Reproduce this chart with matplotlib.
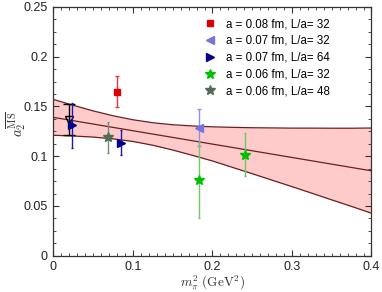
import matplotlib
matplotlib.use("Agg")
import matplotlib.pyplot as plt
from matplotlib.ticker import MultipleLocator
from matplotlib.lines import Line2D

plt.rcParams['font.family'] = ['Liberation Sans', 'DejaVu Sans']
plt.rcParams['mathtext.fontset'] = 'cm'

# Fit band
band_x = [0.0, 0.025, 0.05, 0.075, 0.1, 0.125, 0.15, 0.175, 0.2, 0.225, 0.25,
          0.275, 0.3, 0.325, 0.35, 0.375, 0.4]
band_upper = [0.157, 0.1511, 0.1455, 0.1406, 0.1366, 0.1336, 0.1316, 0.1304, 0.1295,
              0.129, 0.1286, 0.1284, 0.1282, 0.1282, 0.1281, 0.1281, 0.1283]
band_lower = [0.121, 0.1203, 0.1192, 0.1174, 0.1148, 0.111, 0.1062, 0.1008, 0.0952,
              0.0888, 0.0824, 0.0759, 0.0694, 0.0628, 0.0561, 0.0495, 0.0427]
central_x = [0.0, 0.4]
central_y = [0.139, 0.0853]

# Extrapolated point (open triangle)
extrap_x = [0.020]
extrap_y = [0.1365]
extrap_err = [0.0155]

# Lattice data
labels = ['a = 0.08 fm, L/a= 32', 'a = 0.07 fm, L/a= 32', 'a = 0.07 fm, L/a= 64',
          'a = 0.06 fm, L/a= 32', 'a = 0.06 fm, L/a= 48']
s1_x = [0.0795]; s1_y = [0.165]; s1_e = [0.016]
s2_x = [0.183]; s2_y = [0.1285]; s2_e = [0.0185]
s3_x = [0.0229, 0.0845]; s3_y = [0.131, 0.1135]; s3_e = [0.0225, 0.0125]
s4_x = [0.1826, 0.2409]; s4_y = [0.0763, 0.1014]; s4_e = [0.038, 0.0215]
s5_x = [0.068]; s5_y = [0.119]; s5_e = [0.0157]

fig = plt.figure(figsize=(3.82, 2.92), dpi=100)
ax = fig.add_axes([0.140, 0.1243, 0.8325, 0.852])

band_edge = '#6a1f1f'
ax.fill_between(band_x, band_lower, band_upper, color='#ffcaca', lw=0, zorder=1)
ax.plot(band_x, band_upper, color=band_edge, lw=0.9, zorder=2)
ax.plot(band_x, band_lower, color=band_edge, lw=0.9, zorder=2)
ax.plot(central_x, central_y, color=band_edge, lw=0.9, zorder=2)

ax.errorbar(extrap_x, extrap_y, yerr=extrap_err, fmt='v', mfc='none', mec='black',
            ms=5.5, ecolor='black', elinewidth=1, capsize=4, capthick=1, zorder=3)

series = [
    (s1_x, s1_y, s1_e, 's', '#dd0000', '#ee3333', 5, 1.5),
    (s2_x, s2_y, s2_e, '<', '#7474dd', '#8f8fe6', 6, 1.5),
    (s3_x, s3_y, s3_e, '>', '#00008b', '#1a1ab0', 6, 1.0),
    (s4_x, s4_y, s4_e, '*', '#00c000', '#66cc66', 7.5, 1.0),
    (s5_x, s5_y, s5_e, '*', '#4d6e55', '#6f8f75', 7.5, 1.0),
]
handles = []
for (xs, ys, es, mk, col, ecol, ms, cs), lab in zip(series, labels):
    ax.errorbar(xs, ys, yerr=es, fmt=mk, color=col, ms=ms, mec=col,
                ecolor=ecol, elinewidth=1, capsize=cs, zorder=4)
    handles.append(Line2D([], [], ls='none', marker=mk, color=col, mec=col, ms=ms))

ax.set_xlim(0, 0.4)
ax.set_ylim(0, 0.25)
ax.xaxis.set_minor_locator(MultipleLocator(0.01))
ax.yaxis.set_minor_locator(MultipleLocator(0.0125))
ax.set_xticks([0, 0.1, 0.2, 0.3, 0.4])
ax.set_xticklabels(['0', '0.1', '0.2', '0.3', '0.4'])
ax.set_yticks([0, 0.05, 0.1, 0.15, 0.2, 0.25])
ax.set_yticklabels(['0', '0.05', '0.1', '0.15', '0.2', '0.25'])
ax.tick_params(which='both', direction='in', top=True, right=True, colors='#333333',
               labelcolor='#222222', labelsize=9)
ax.tick_params(which='major', length=4, width=0.8, pad=4)
ax.tick_params(which='minor', length=2, width=0.6)
for sp in ax.spines.values():
    sp.set_color('#333333')
    sp.set_linewidth(0.9)

ax.set_xlabel(r'$m_\pi^2\ (\mathrm{GeV}^2)$', fontsize=9.5, color='#333333', labelpad=0)
ax.set_ylabel(r'$a_2^{\overline{\rm MS}}$', fontsize=10.5, color='#333333')
ax.yaxis.set_label_coords(-0.08, 0.53)

leg = ax.legend(handles, labels, loc='upper left', frameon=False, fontsize=8.3,
                handlelength=1.0, handletextpad=0.9, labelspacing=0.42,
                borderaxespad=0, borderpad=0,
                bbox_to_anchor=(0.475, 0.955))

fig.savefig('out.png', dpi=100)
